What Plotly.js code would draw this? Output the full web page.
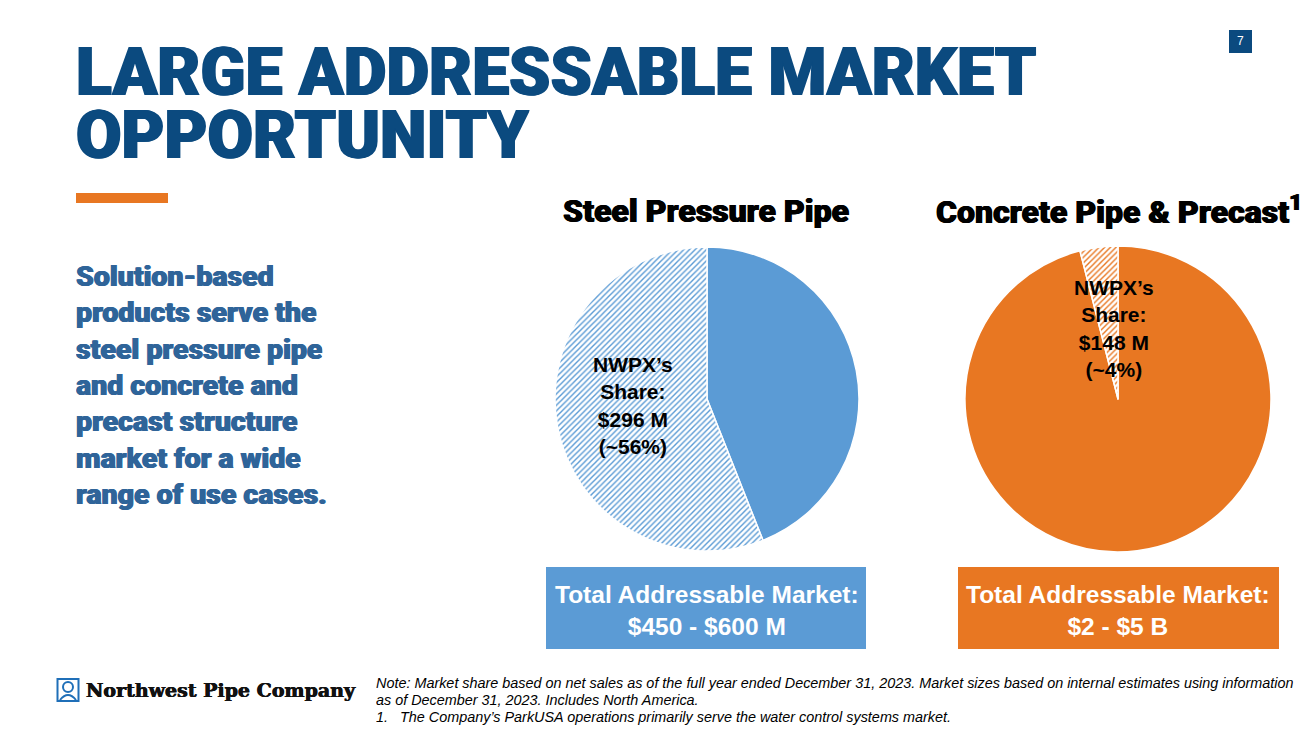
<!DOCTYPE html>
<html>
<head>
<meta charset="utf-8">
<script src="https://cdn.plot.ly/plotly-3.0.1.min.js"></script>
<style>html,body{margin:0;padding:0;background:#fff;}#chart{width:1310px;height:731px;}</style>
</head>
<body>
<div id="chart"></div>
<script>
// ---- data ----
const slideTitle = ['LARGE ADDRESSABLE MARKET', 'OPPORTUNITY'];
const bodyLines = ['Solution-based', 'products serve the', 'steel pressure pipe', 'and concrete and', 'precast structure', 'market for a wide', 'range of use cases.'];
const pieTitles = ['Steel Pressure Pipe', 'Concrete Pipe & Precast<sup>1</sup>'];
const sliceLabels = ['Rest of market', "NWPX\u2019s Share"];
const steelShares = [44, 56];
const concreteShares = [96, 4];
const nwpxSales = ['$296 M', '$148 M'];
const nwpxPct = ['(~56%)', '(~4%)'];
const tamTitle = 'Total Addressable Market:';
const tamValues = ['$450 - $600 M', '$2 - $5 B'];
const pageNumber = '7';
const logoText = 'Northwest Pipe Company';
const footnotes = [
  'Note: Market share based on net sales as of the full year ended December 31, 2023. Market sizes based on internal estimates using information',
  'as of December 31, 2023. Includes North America.',
  '1.   The Company\u2019s ParkUSA operations primarily serve the water control systems market.'
];

// ---- helpers ----
const W = 1310, H = 731;
const px = x => x / W;
const py = y => 1 - y / H;

const BLUE = '#5B9BD5', ORANGE = '#E87722', NAVY = '#0B4A7F', TEXTBLUE = '#2F6499';
const thick = (c, w) => `${w}px 0 0 ${c}, -${w}px 0 0 ${c}`;

const traces = [
  {
    type: 'pie', values: steelShares, labels: sliceLabels, sort: false, direction: 'clockwise', rotation: 0,
    textinfo: 'none', hoverinfo: 'skip',
    domain: {x: [px(555), px(859)], y: [py(551), py(247)]},
    marker: {colors: [BLUE, '#ffffff'], line: {color: '#ffffff', width: 1.5},
      pattern: {shape: ['', '/'], fgcolor: BLUE, bgcolor: '#ffffff', size: 4, solidity: 0.35}}
  },
  {
    type: 'pie', values: concreteShares, labels: sliceLabels, sort: false, direction: 'clockwise', rotation: 0,
    textinfo: 'none', hoverinfo: 'skip',
    domain: {x: [px(965), px(1271)], y: [py(552), py(246)]},
    marker: {colors: [ORANGE, '#ffffff'], line: {color: '#ffffff', width: 1.5},
      pattern: {shape: ['', '/'], fgcolor: ORANGE, bgcolor: '#ffffff', size: 4, solidity: 0.35}}
  }
];

const ann = [];
const heavyFam = 'Roboto, "Liberation Sans", Arial, sans-serif';
// slide title
slideTitle.forEach((t, i) => ann.push({text: t, x: px(74), y: py(72 + i * 63), xanchor: 'left', yanchor: 'middle', height: 60,
  font: {family: heavyFam, weight: 900, size: 66, color: NAVY, shadow: thick(NAVY, 1)}}));
// body text
bodyLines.forEach((t, i) => ann.push({text: t, x: px(74), y: py(276 + i * 36.3), xanchor: 'left', yanchor: 'middle', height: 34,
  font: {family: heavyFam, weight: 900, size: 28.5, color: TEXTBLUE, shadow: thick(TEXTBLUE, 0.6)}}));
// pie titles
ann.push({text: pieTitles[0], x: px(706), y: py(211), xanchor: 'center', yanchor: 'middle',
  font: {family: heavyFam, weight: 900, size: 32, color: '#000', shadow: thick('#000', 0.6)}});
ann.push({text: pieTitles[1], x: px(1119), y: py(210), xanchor: 'center', yanchor: 'middle',
  font: {family: heavyFam, weight: 900, size: 32, color: '#000', shadow: thick('#000', 0.6)}});
// slice labels
const lblFont = {family: '"Liberation Sans", Arial, sans-serif', size: 21, color: '#000', weight: 700};
ann.push({text: "NWPX\u2019s<br>Share:<br>" + nwpxSales[0] + '<br>' + nwpxPct[0], x: px(633), y: py(405),
  xanchor: 'center', yanchor: 'middle', font: lblFont});
ann.push({text: "NWPX\u2019s<br>Share:<br>" + nwpxSales[1] + '<br>' + nwpxPct[1], x: px(1114), y: py(328),
  xanchor: 'center', yanchor: 'middle', font: lblFont});
// TAM boxes text
const boxFont = {family: '"Liberation Sans", Arial, sans-serif', size: 24.5, color: '#fff', weight: 700};
ann.push({text: tamTitle + '<br>' + tamValues[0], x: px(707), y: py(610), xanchor: 'center', yanchor: 'middle', font: boxFont});
ann.push({text: tamTitle + '<br>' + tamValues[1], x: px(1118), y: py(610), xanchor: 'center', yanchor: 'middle', font: boxFont});
// page number
ann.push({text: pageNumber, x: px(1240.5), y: py(41.5), xanchor: 'center', yanchor: 'middle',
  font: {family: '"Liberation Sans", Arial, sans-serif', size: 12, color: '#fff'}});
// logo text
ann.push({text: logoText, x: px(84), y: py(690), xanchor: 'left', yanchor: 'middle',
  font: {family: '"DejaVu Serif", serif', size: 19, color: '#111', weight: 700, shadow: thick('#111', 0.4)}});
// footnotes
footnotes.forEach((t, i) => ann.push({text: '<i>' + t + '</i>', x: px(374), y: py(683 + i * 17), xanchor: 'left', yanchor: 'middle', height: 16,
  font: {family: '"Liberation Sans", Arial, sans-serif', size: 14.4, color: '#000'}}));
ann.forEach(a => { a.xref = 'paper'; a.yref = 'paper'; a.showarrow = false; });

const shapes = [
  {type: 'rect', x0: px(76), x1: px(168), y0: py(203), y1: py(193), fillcolor: ORANGE, line: {width: 0}},
  {type: 'rect', x0: px(546), x1: px(866), y0: py(649), y1: py(567), fillcolor: BLUE, line: {width: 0}},
  {type: 'rect', x0: px(958), x1: px(1279), y0: py(649), y1: py(567), fillcolor: ORANGE, line: {width: 0}},
  {type: 'rect', x0: px(1229), x1: px(1252), y0: py(53), y1: py(30), fillcolor: NAVY, line: {width: 0}},
  // logo icon
  {type: 'rect', x0: px(57.5), x1: px(78.5), y0: py(701), y1: py(679), fillcolor: 'rgba(0,0,0,0)', line: {color: '#1F6FB8', width: 2}},
  {type: 'circle', x0: px(63), x1: px(73), y0: py(692), y1: py(682), fillcolor: 'rgba(0,0,0,0)', line: {color: '#1F6FB8', width: 2}},
  {type: 'path', path: `M ${px(60)} ${py(700)} Q ${px(68)} ${py(690)} ${px(76)} ${py(700)}`, line: {color: '#1F6FB8', width: 2}}
];
shapes.forEach(s => { s.xref = 'paper'; s.yref = 'paper'; s.layer = 'above'; });

const layout = {
  width: W, height: H, margin: {l: 0, r: 0, t: 0, b: 0},
  paper_bgcolor: '#fff', plot_bgcolor: '#fff', showlegend: false, hovermode: false,
  annotations: ann, shapes: shapes
};
Plotly.newPlot('chart', traces, layout, {displayModeBar: false, staticPlot: true});
</script>
</body>
</html>
